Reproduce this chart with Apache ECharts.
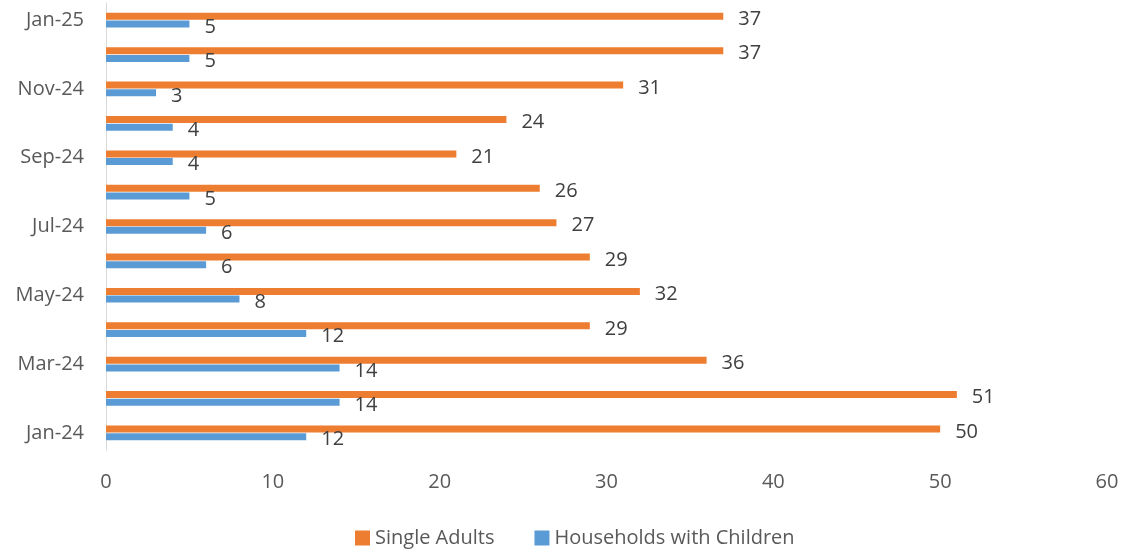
<!DOCTYPE html>
<html><head><meta charset="utf-8">
<script src="https://cdn.jsdelivr.net/npm/echarts@6/dist/echarts.min.js"></script>
<style>html,body{margin:0;padding:0;background:#fff}#c{width:1126px;height:549px}</style>
</head><body><div id="c"></div>
<script>
const categories = ['Jan-24','Feb-24','Mar-24','Apr-24','May-24','Jun-24','Jul-24','Aug-24','Sep-24','Oct-24','Nov-24','Dec-24','Jan-25'];
const singleAdults = [50,51,36,29,32,29,27,26,21,24,31,37,37];
const households = [12,14,14,12,8,6,6,5,4,4,3,5,5];
const xTicks = {min:0,max:60,interval:10};
const FONT = '"Open Sans", "Noto Sans", sans-serif';
const chart = echarts.init(document.getElementById('c'));
const lbl = {show:true,position:'right',distance:15,offset:[0,3],color:'#404040',fontSize:20,fontFamily:FONT};
chart.setOption({
  animation:false,
  grid:{left:106,right:19,top:3,bottom:99,containLabel:false},
  legend:{bottom:-4,left:350,icon:'rect',itemWidth:15,itemHeight:15,itemGap:40,
    textStyle:{color:'#595959',fontSize:20,fontFamily:FONT},
    data:['Single Adults','Households with Children']},
  xAxis:{type:'value',min:xTicks.min,max:xTicks.max,interval:xTicks.interval,
    axisLine:{show:false},axisTick:{show:false},splitLine:{show:false},
    axisLabel:{color:'#595959',fontSize:20,fontFamily:FONT,margin:22}},
  yAxis:{type:'category',data:categories,
    axisLine:{show:true,lineStyle:{color:'#d9d9d9',width:1}},axisTick:{show:false},
    axisLabel:{interval:1,color:'#595959',fontSize:20,fontFamily:FONT,margin:22}},
  series:[
    {name:'Single Adults',type:'bar',data:singleAdults,barWidth:7,barGap:'10%',
      itemStyle:{color:'#ED7D31'},label:lbl},
    {name:'Households with Children',type:'bar',data:households,barWidth:7,barGap:'10%',
      itemStyle:{color:'#5B9BD5'},label:lbl}
  ]
});
</script></body></html>
